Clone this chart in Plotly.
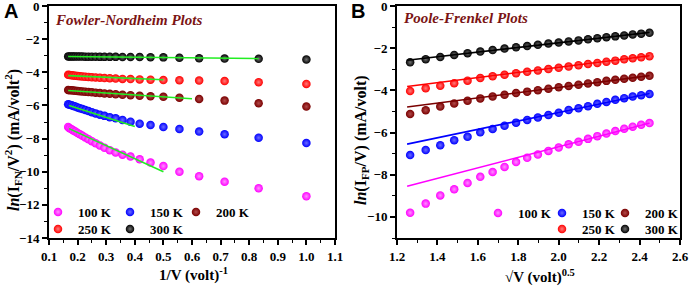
import plotly.graph_objects as go

# ---------------- data ----------------
temps = ["100 K", "150 K", "200 K", "250 K", "300 K"]
colors = ["#ff00ff", "#0000ff", "#7a0000", "#ff0000", "#000000"]
hilite = ["#ff90ff", "#6a6aff", "#b04a4a", "#ff7a7a", "#707070"]

# Fowler-Nordheim: x = 1/V
fn_x = [0.167, 0.172, 0.179, 0.185, 0.192, 0.2, 0.208, 0.217, 0.227, 0.238, 0.25, 0.263, 0.278,
        0.294, 0.3125, 0.333, 0.357, 0.385, 0.417, 0.455, 0.5, 0.556, 0.625, 0.714, 0.833, 1.0]
fn_100 = [-7.30, -7.37, -7.44, -7.51, -7.58, -7.66, -7.74, -7.83, -7.93, -8.04, -8.16, -8.28, -8.42,
          -8.56, -8.70, -8.84, -8.97, -9.08, -9.25, -9.45, -9.66, -10.0, -10.27, -10.6, -11.0, -11.48]
fn_150 = [-5.93, -5.96, -5.99, -6.03, -6.07, -6.12, -6.17, -6.22, -6.28, -6.34, -6.41, -6.48, -6.56,
          -6.63, -6.71, -6.78, -6.88, -6.98, -7.10, -7.18, -7.30, -7.42, -7.58, -7.74, -7.95, -8.27]
fn_200 = [-5.07, -5.08, -5.09, -5.10, -5.12, -5.13, -5.14, -5.16, -5.17, -5.19, -5.21, -5.23, -5.25,
          -5.28, -5.30, -5.33, -5.36, -5.39, -5.42, -5.45, -5.48, -5.53, -5.61, -5.71, -5.87, -6.07]
fn_250 = [-4.15, -4.17, -4.18, -4.20, -4.21, -4.22, -4.24, -4.25, -4.27, -4.28, -4.30, -4.31, -4.33,
          -4.35, -4.36, -4.38, -4.40, -4.41, -4.43, -4.45, -4.47, -4.48, -4.50, -4.53, -4.60, -4.70]
fn_300 = [-3.04, -3.04, -3.04, -3.05, -3.05, -3.05, -3.05, -3.05, -3.06, -3.06, -3.06, -3.06, -3.07,
          -3.07, -3.07, -3.07, -3.08, -3.08, -3.08, -3.09, -3.10, -3.12, -3.15, -3.17, -3.19, -3.23]
fn_series = [fn_100, fn_150, fn_200, fn_250, fn_300]
# linear fits (endpoints)
fn_fit_x = [[0.17, 0.50], [0.17, 0.40], [0.167, 0.60], [0.167, 0.50], [0.167, 0.833]]
fn_fit_y = [[-7.40, -10.0], [-6.00, -7.27], [-5.10, -5.60], [-4.20, -4.45], [-3.05, -3.17]]

# Poole-Frenkel: x = sqrt(V)
pf_x = [1.265, 1.342, 1.414, 1.483, 1.549, 1.612, 1.673, 1.732, 1.789, 1.844, 1.897, 1.949,
        2.000, 2.049, 2.098, 2.145, 2.191, 2.236, 2.280, 2.324, 2.366, 2.408, 2.449]
pf_100 = [-9.80, -9.37, -8.98, -8.69, -8.39, -8.10, -7.87, -7.63, -7.40, -7.20, -7.04, -6.87,
          -6.71, -6.56, -6.44, -6.30, -6.17, -6.05, -5.93, -5.82, -5.72, -5.63, -5.55]
pf_150 = [-7.07, -6.83, -6.60, -6.36, -6.20, -5.99, -5.83, -5.68, -5.53, -5.40, -5.29, -5.17,
          -5.06, -4.93, -4.85, -4.75, -4.64, -4.55, -4.45, -4.37, -4.29, -4.23, -4.17]
pf_200 = [-5.12, -4.94, -4.77, -4.62, -4.49, -4.38, -4.29, -4.21, -4.13, -4.06, -3.99, -3.92,
          -3.85, -3.79, -3.73, -3.67, -3.61, -3.55, -3.50, -3.45, -3.40, -3.35, -3.31]
pf_250 = [-4.03, -3.90, -3.78, -3.66, -3.54, -3.41, -3.33, -3.26, -3.19, -3.12, -3.06, -2.99,
          -2.93, -2.87, -2.81, -2.75, -2.70, -2.64, -2.59, -2.53, -2.48, -2.43, -2.38]
pf_300 = [-2.67, -2.52, -2.42, -2.32, -2.24, -2.16, -2.09, -2.02, -1.96, -1.90, -1.84, -1.78,
          -1.73, -1.68, -1.63, -1.58, -1.53, -1.48, -1.44, -1.40, -1.35, -1.31, -1.27]
pf_series = [pf_100, pf_150, pf_200, pf_250, pf_300]
pf_fit_x = [1.25, 2.45]
pf_fit_y = [[-8.55, -5.55], [-6.55, -4.15], [-4.79, -3.30], [-3.82, -2.36], [-2.57, -1.25]]

# ---------------- figure ----------------
W, H = 692, 286
FONT = "Liberation Serif"
fig = go.Figure()

# legend entry positions (px of marker centre) – layout only
leg_pos_a = [(65, 212), (137, 212), (203, 212), (65, 229), (137, 229)]
leg_pos_b = [(505, 213), (569, 213), (632, 213), (569, 229), (632, 229)]

def mk(i):
    return dict(size=8.5, color=colors[i], gradient=dict(type="radial", color=hilite[i]),
                line=dict(width=0))

for i, t in enumerate(temps):
    fig.add_trace(go.Scatter(x=fn_x, y=fn_series[i], mode="markers", name=t,
                             legend="legend" if i == 0 else f"legend{i + 1}",
                             marker=mk(i), xaxis="x", yaxis="y"))
for i, t in enumerate(temps):
    fig.add_trace(go.Scatter(x=fn_fit_x[i], y=fn_fit_y[i], mode="lines", showlegend=False,
                             line=dict(color="#22ee22", width=1.6), xaxis="x", yaxis="y"))
for i, t in enumerate(temps):
    fig.add_trace(go.Scatter(x=pf_x, y=pf_series[i], mode="markers", name=t,
                             legend=f"legend{i + 6}",
                             marker=mk(i), xaxis="x2", yaxis="y2"))
for i, t in enumerate(temps):
    fig.add_trace(go.Scatter(x=pf_fit_x, y=pf_fit_y[i], mode="lines", showlegend=False,
                             line=dict(color=colors[i], width=1.6), xaxis="x2", yaxis="y2"))

tickfont = dict(family=FONT, size=13, color="black", weight="bold")

def ax(domain, rng, dtick, minor, anchor, fmt=None):
    d = dict(domain=domain, range=rng, dtick=dtick, tick0=0, showgrid=False, zeroline=False,
             showline=True, linewidth=2, linecolor="black", mirror=True,
             ticks="outside", ticklen=5, tickwidth=1.5, tickcolor="black",
             minor=dict(ticks="outside", ticklen=3, dtick=minor, tickcolor="black", tickwidth=1),
             tickfont=tickfont, anchor=anchor, automargin=False, ticklabeloverflow="allow")
    if fmt:
        d["tickformat"] = fmt
    return d

ydom = [1 - 238 / H, 1 - 6 / H]
fig.update_layout(
    width=W, height=H, margin=dict(l=0, r=0, t=0, b=0),
    paper_bgcolor="white", plot_bgcolor="white",
    xaxis=ax([49 / W, 335 / W], [0.1, 1.1], 0.1, 0.05, "y", ".1f"),
    yaxis=ax(ydom, [-14, 0], 2, 1, "x"),
    xaxis2=ax([397 / W, 680 / W], [1.2, 2.6], 0.2, 0.1, "y2", ".1f"),
    yaxis2=ax(ydom, [-11, 0], 2, 1, "x2"),
    showlegend=True,
)

legfont = dict(family=FONT, size=13, color="black", weight="bold")
OFF = 27
legends = {}
for k, (px, py) in enumerate(leg_pos_a + leg_pos_b):
    key = "legend" if k == 0 else f"legend{k + 1}"
    legends[key] = dict(x=(px - OFF) / W, y=1 - py / H, xanchor="left", yanchor="middle",
                        orientation="v", bgcolor="rgba(0,0,0,0)", borderwidth=0, font=legfont,
                        itemsizing="trace", itemclick=False, tracegroupgap=0)
fig.update_layout(**legends)

def txt(x, y, s, font, xanchor="left", angle=0):
    fig.add_annotation(x=x / W, y=1 - y / H, xref="paper", yref="paper", xanchor=xanchor,
                       yanchor="middle", text=s, showarrow=False, textangle=angle, font=font)

tfont = dict(family=FONT, size=15, color="black", weight="bold")
yfont = dict(family=FONT, size=16, color="black", weight="bold")
txt(193, 274, "1/V (volt)<sup>-1</sup>", tfont, "center")
txt(540, 276, "√V (volt)<sup>0.5</sup>", tfont, "center")
txt(13, 140, "<i>ln</i>(I<sub>FN</sub>/V<sup>2</sup>) (mA/volt<sup>2</sup>)", yfont, "center", -90)
txt(361, 140, "<i>ln</i>(I<sub>FP</sub>/V) (mA/volt)", yfont, "center", -90)

hfont = dict(family=FONT, size=15, color="#7b1414", weight="bold", style="italic")
txt(53, 20, "Fowler-Nordheim Plots", hfont)
txt(402, 18, "Poole-Frenkel Plots", hfont)
pfont = dict(family="Liberation Sans", size=20, color="black", weight="bold")
txt(2, 11, "A", pfont)
txt(349, 11, "B", pfont)

fig.write_html("out.html", config={"displayModeBar": False},
               post_script="document.body.style.margin='0';")
